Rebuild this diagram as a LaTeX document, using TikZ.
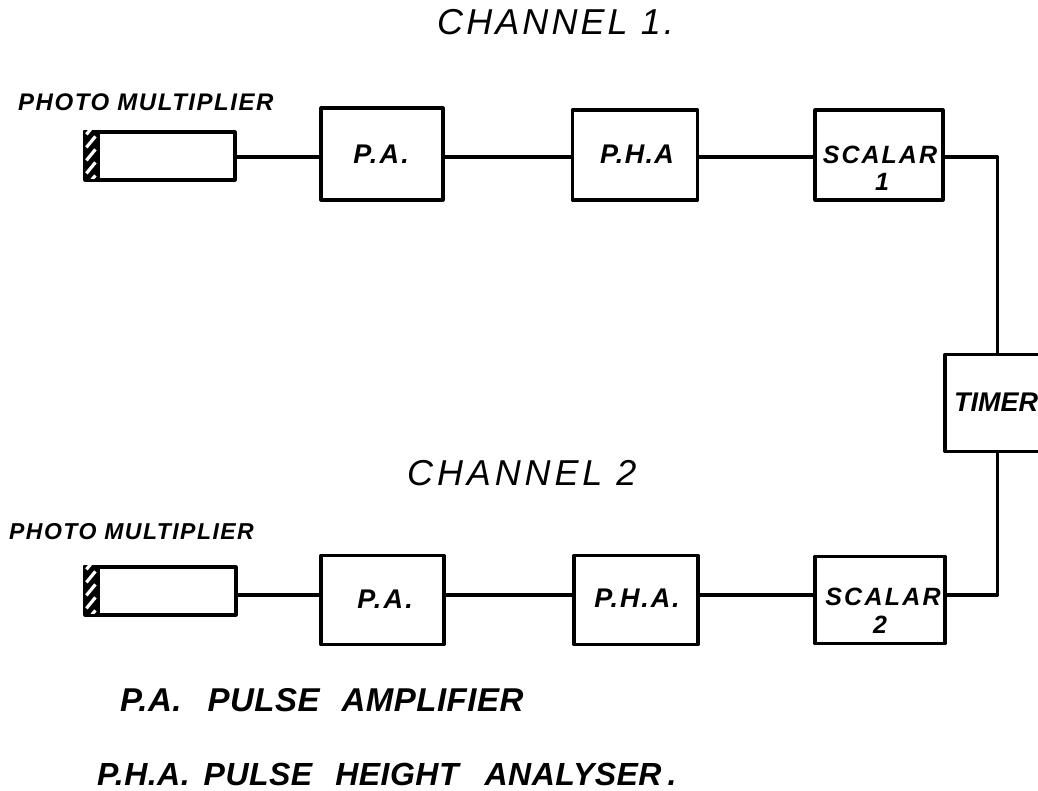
\documentclass[tikz,border=0pt]{standalone}
\usepackage{fontspec}
\setmainfont{Liberation Sans}
\newcommand{\hand}[2]{\fontsize{#1}{#1}\selectfont\addfontfeature{LetterSpace=#2}}
\newcommand{\handb}[2]{\fontsize{#1}{#1}\selectfont\bfseries\itshape\addfontfeature{LetterSpace=#2}}
\tikzset{
  x=1pt,y=-1pt,
  ink/.style={line width=3.2pt,black,line join=round},
  blockbox/.style={draw,ink,minimum width=#1,minimum height=90pt,inner sep=0pt},
  blockbox/.default=122pt,
  tube/.style={draw,ink,minimum width=150pt,minimum height=48pt,inner sep=0pt},
  lbl/.style={inner sep=0pt,anchor=west},
  tag/.style={inner sep=0pt,anchor=center},
  wire/.style={ink,line cap=round},
}
\newcommand{\window}[1]{%
  \begin{scope}
    \clip (#1.north west) rectangle ++(15,48);
    \fill[black] (#1.north west) rectangle ++(15,48);
    \foreach \d in {-2,11,24,37,50}
      \draw[white,line width=3.2pt] ([shift={(3,\d+6)}]#1.north west) -- ++(9,-11);
  \end{scope}
}
\begin{document}
\begin{tikzpicture}
\useasboundingbox (0,0) rectangle (1038,790);
\clip (0,0) rectangle (1038,790);
% titles
\node[lbl,font=\itshape\hand{36}{8.6}] (t1) at (437,22) {CHANNEL 1.};
\node[lbl,font=\itshape\hand{36}{10.8}] (t2) at (407,473) {CHANNEL 2};
\node[lbl,font=\handb{24}{6.4}] (pm1l) at (18,102) {PHOTO MULTIPLIER};
\node[lbl,font=\handb{23}{6.4}] (pm2l) at (9,532) {PHOTO MULTIPLIER};
\node[lbl,font=\handb{33}{1.5}] (k1) at (120,700) {P.A.\hspace{26pt}PULSE\hspace{22pt}AMPLIFIER};
\node[lbl,font=\handb{32}{1.5}] (k2) at (97,774) {P.H.A.\hspace{14pt}PULSE\hspace{23pt}HEIGHT\hspace{26pt}ANALYSER\hspace{6pt}.};
% wire levels
\coordinate (w1) at (0,157);
\coordinate (w2) at (0,595);
% channel 1
\node[tube] (pm1) at (160,156) {};
\window{pm1}
\draw[ink] (pm1.north west) ++(15,0) -- ++(0,48);
\node[blockbox,minimum height=92pt] (pa1) at (382,154) {};
\node[tag,font=\handb{27}{8}] (pa1t) at (381,154) {P.A.};
\node[blockbox=125pt] (pha1) at (635,155) {};
\node[tag,font=\handb{27}{5}] (pha1t) at (637,154) {P.H.A};
\node[blockbox=128pt] (s1) at (879,155) {};
\node[tag,font=\handb{25}{8}] (s1t) at (880,155) {SCALAR};
\node[tag,font=\handb{25}{0}] (s1n) at (882,182) {1};
% channel 2
\node[tube,minimum width=151pt] (pm2) at (160.5,591) {};
\window{pm2}
\draw[ink] (pm2.north west) ++(15,0) -- ++(0,48);
\node[blockbox=123pt,minimum height=89pt] (pa2) at (382.5,600) {};
\node[tag,font=\handb{27}{8}] (pa2t) at (385,599) {P.A.};
\node[blockbox=124pt,minimum height=89pt] (pha2) at (636,600) {};
\node[tag,font=\handb{27}{7}] (pha2t) at (637,598) {P.H.A.};
\node[blockbox=130pt,minimum height=87pt] (s2) at (880,600) {};
\node[tag,font=\handb{25}{9}] (s2t) at (883,597) {SCALAR};
\node[tag,font=\handb{25}{0}] (s2n) at (880,625) {2};
% timer runs off the right edge of the sheet
\node[blockbox=105pt,minimum height=97pt] (timer) at (997.5,403) {};
\node[lbl,font=\handb{27}{0}] (timerl) at (954,402) {TIMER};
% connectors
\draw[wire] (pm1.east |- w1) -- (pa1.west |- w1);
\draw[wire] (pa1.east |- w1) -- (pha1.west |- w1);
\draw[wire] (pha1.east |- w1) -- (s1.west |- w1);
\draw[wire] (s1.east |- w1) -| (timer.north);
\draw[wire] (pm2.east |- w2) -- (pa2.west |- w2);
\draw[wire] (pa2.east |- w2) -- (pha2.west |- w2);
\draw[wire] (pha2.east |- w2) -- (s2.west |- w2);
\draw[wire] (s2.east |- w2) -| (timer.south);
\end{tikzpicture}
\end{document}
